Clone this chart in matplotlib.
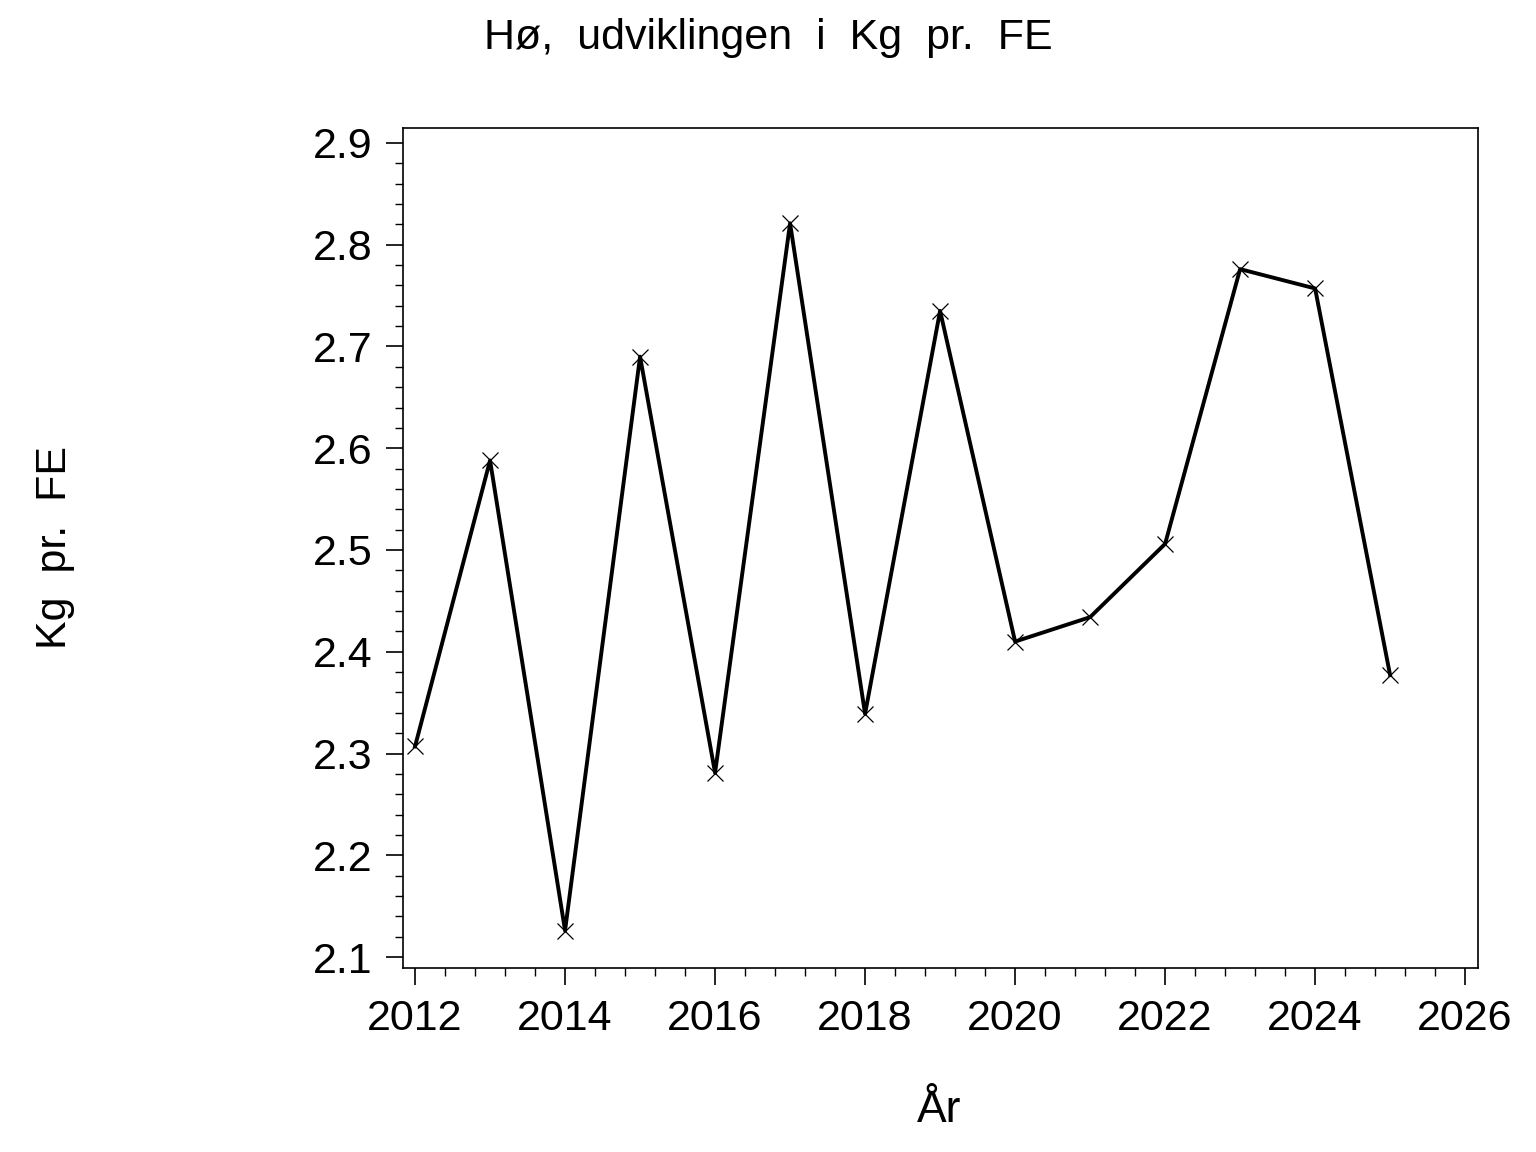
import matplotlib
matplotlib.use("Agg")
import matplotlib.pyplot as plt
from matplotlib.ticker import MultipleLocator

years = [2012, 2013, 2014, 2015, 2016, 2017, 2018, 2019, 2020, 2021, 2022, 2023, 2024, 2025]
kg_pr_fe = [2.307, 2.588, 2.126, 2.690, 2.281, 2.821, 2.339, 2.735, 2.410, 2.434, 2.506, 2.776, 2.757, 2.377]

title = "Hø,  udviklingen  i  Kg  pr.  FE"
xlabel = "År"
ylabel = "Kg  pr.  FE"

plt.rcParams['font.family'] = ['Liberation Sans', 'DejaVu Sans']

fig = plt.figure(figsize=(15.36, 11.52), dpi=100)
ax = fig.add_axes([0.2624, 0.1597, 0.6999, 0.7292])

ax.plot(years, kg_pr_fe, color='black', linewidth=2.8, marker='x',
        markersize=11, markeredgewidth=0.9, markeredgecolor='black')

ax.set_xlim(2011.84, 2026.173)
ax.set_ylim(2.0892, 2.9147)
ax.xaxis.set_major_locator(MultipleLocator(2))
ax.xaxis.set_minor_locator(MultipleLocator(0.4))
ax.yaxis.set_major_locator(MultipleLocator(0.1))
ax.yaxis.set_minor_locator(MultipleLocator(0.02))
ax.yaxis.set_major_formatter(matplotlib.ticker.FormatStrFormatter('%.1f'))

ax.tick_params(axis='both', which='major', direction='out', length=12, width=1.2,
               labelsize=31, pad=10, colors='black')
ax.tick_params(axis='both', which='minor', direction='out', length=6, width=1.0)
for s in ax.spines.values():
    s.set_linewidth(1.2)

fig.text(0.5, 0.967, title, ha='center', va='center', fontsize=31)
fig.text(0.6117, 0.036, xlabel, ha='center', va='center', fontsize=32)
fig.text(0.036, 0.525, ylabel, ha='center', va='center', rotation=90, fontsize=31)

fig.savefig("out.png", dpi=100)
